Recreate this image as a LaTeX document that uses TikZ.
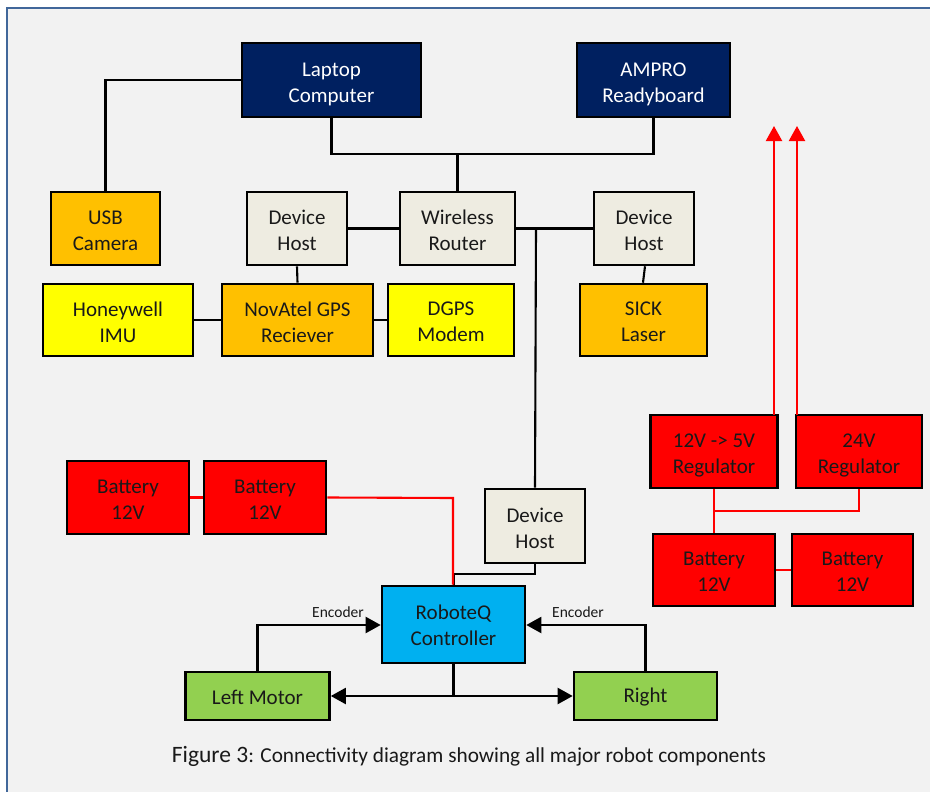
\documentclass[tikz,border=0pt]{standalone}
\usepackage{fontspec}
\setmainfont{Carlito}
\usetikzlibrary{arrows.meta}
\definecolor{navy}{HTML}{002060}
\definecolor{orng}{HTML}{FFC000}
\definecolor{yell}{HTML}{FFFF00}
\definecolor{beige}{HTML}{EEECE1}
\definecolor{rd}{HTML}{FF0000}
\definecolor{sky}{HTML}{00B0F0}
\definecolor{grn}{HTML}{92D050}
\definecolor{bg}{HTML}{F2F2F2}
\definecolor{frame}{HTML}{41679A}
\begin{document}
\begin{tikzpicture}[x=1pt,y=-1pt,
  box/.style={draw=black, line width=2.6pt, inner sep=0pt},
  tx/.style={align=center, inner sep=0pt, font=\fontsize{21}{26}\selectfont, text=black!90, yshift=-2pt},
  navybox/.style={box, fill=navy},
  orbox/.style={box, fill=orng},
  yebox/.style={box, fill=yell},
  bgbox/.style={box, fill=beige},
  rdbox/.style={box, fill=rd},
  blbox/.style={box, fill=sky},
  grbox/.style={box, fill=grn},
  wire/.style={draw=black, line width=2.1pt},
  pwire/.style={draw=rd, line width=2.1pt},
  tip/.style={-{Triangle[length=15pt,width=16pt]}},
  lbl/.style={font=\fontsize{15.5}{18}\selectfont, inner sep=0pt, text=black!90}
]
\useasboundingbox (0,0) rectangle (930,792);
\fill[white] (0,0) rectangle (930,792);
\draw[fill=bg, draw=frame, line width=2pt] (6.5,8) rectangle (945,810);

% nodes
\node[navybox, minimum width=179pt, minimum height=74pt, label={[tx, text=white, yshift=-2pt]center:Laptop\\Computer}] (laptop) at (331.5,80) {};
\node[navybox, minimum width=153pt, minimum height=74pt, label={[tx, text=white, yshift=-2pt]center:AMPRO\\Readyboard}] (ampro) at (653.5,80) {};
\node[orbox, minimum width=109pt, minimum height=73pt, label={[tx]center:USB\\Camera}] (usb) at (105.5,228.5) {};
\node[bgbox, minimum width=100pt, minimum height=73pt, label={[tx]center:Device\\Host}] (dhl) at (297,228.5) {};
\node[bgbox, minimum width=115pt, minimum height=73pt, label={[tx]center:Wireless\\Router}] (router) at (457.5,228.5) {};
\node[bgbox, minimum width=100pt, minimum height=73pt, label={[tx]center:Device\\Host}] (dhr) at (644,228.5) {};
\node[yebox, minimum width=150pt, minimum height=72pt, label={[tx]center:Honeywell\\IMU}] (imu) at (118,320) {};
\node[orbox, minimum width=151pt, minimum height=72pt, label={[tx]center:NovAtel GPS\\Reciever}] (gps) at (297.5,320) {};
\node[yebox, minimum width=126pt, minimum height=72pt, label={[tx]center:DGPS\\Modem}] (dgps) at (451,320) {};
\node[orbox, minimum width=127pt, minimum height=72pt, label={[tx]center:SICK\\Laser}] (sick) at (643.5,320) {};
\node[rdbox, minimum width=127pt, minimum height=73pt, label={[tx, yshift=-1.5pt]center:12V -> 5V\\Regulator}] (reg5) at (714,451.5) {};
\node[rdbox, minimum width=126pt, minimum height=73pt, label={[tx, yshift=-1.5pt]center:24V\\Regulator}] (reg24) at (859,451.5) {};
\node[rdbox, minimum width=122pt, minimum height=72pt, label={[tx]center:Battery\\12V}] (batra) at (714,570) {};
\node[rdbox, minimum width=121pt, minimum height=72pt, label={[tx]center:Battery\\12V}] (batrb) at (852.5,570) {};
\node[rdbox, minimum width=122pt, minimum height=73pt, label={[tx]center:Battery\\12V}] (batla) at (128,497.5) {};
\node[rdbox, minimum width=122pt, minimum height=73pt, label={[tx]center:Battery\\12V}] (batlb) at (265,497.5) {};
\node[bgbox, minimum width=100pt, minimum height=74pt, label={[tx]center:Device\\Host}] (dhb) at (535,526) {};
\node[blbox, minimum width=143pt, minimum height=77pt, label={[tx, yshift=1pt]center:RoboteQ\\Controller}] (robo) at (453.5,624.5) {};
\node[grbox, minimum width=144pt, minimum height=48pt, label={[tx, yshift=1pt]center:Left Motor}] (lmotor) at (257.5,696) {};
\node[grbox, minimum width=143pt, minimum height=48pt, label={[tx, yshift=1pt]center:Right}] (rmotor) at (645.5,696) {};

% coordinates
\coordinate (busL) at (331.5,154);
\coordinate (busR) at (653.5,154);
\coordinate (busM) at (457.5,154);
\coordinate (usbup) at (105.5,80);
\coordinate (rj) at (536,228.5);
\coordinate (dbk) at (535,574);
\coordinate (dbk2) at (454,574);
\coordinate (pbk) at (453,498);
\coordinate (arr1) at (774,126);
\coordinate (arr2) at (797,126);
\coordinate (regj1) at (714,511);
\coordinate (regj2) at (859,511);
\coordinate (encL) at (257.5,625);
\coordinate (encR) at (645.5,625);
\coordinate (mj) at (453.5,696);

% black connectors
\draw[wire] (laptop.south) -- (busL) -- (busR) -- (ampro.south);
\draw[wire] (busM) -- (router.north);
\draw[wire] (usb.north) -- (usbup) -- (laptop.west);
\draw[wire] (dhl.east) -- (router.west);
\draw[wire] (router.east) -- (dhr.west);
\draw[wire] (rj) -- (dhb.north);
\draw[wire] (dhl.south) -- (gps.north);
\draw[wire] ([xshift=1pt]dhr.south) -- ([xshift=-0.5pt]sick.north);
\draw[wire] (imu.east) -- (gps.west);
\draw[wire] (gps.east) -- (dgps.west);
\draw[wire] (dhb.south) -- (dbk) -- (dbk2) -- (dbk2 |- robo.north);
\draw[wire, tip] (lmotor.north) -- (encL) -- (robo.west |- encL);
\draw[wire, tip] (rmotor.north) -- (encR) -- (robo.east |- encR);
\draw[wire, tip] (robo.south) -- (mj) -- (lmotor.east);
\draw[wire, tip] (mj) -- (rmotor.west);

% power
\draw[pwire] (batla.east) -- (batla.east -| batlb.west);
\draw[pwire] (batlb.east) -- (pbk) -- (pbk |- robo.north);
\draw[pwire, tip] (774,415) -- (arr1);
\draw[pwire, tip] (797,415) -- (arr2);
\draw[pwire] (reg5.south) -- (regj1) -- (regj2) -- (reg24.south);
\draw[pwire] (regj1) -- (batra.north);
\draw[pwire] (batra.east) -- (batrb.west);

% labels
\node[lbl, anchor=base east] (encl) at (364,617) {Encoder};
\node[lbl, anchor=base west] (encr) at (552,617) {Encoder};
\node[inner sep=0pt, anchor=base, text=black!90] (cap) at (469,762) {{\fontsize{23.5}{26}\selectfont Figure 3}{\fontsize{21.3}{26}\selectfont: Connectivity diagram showing all major robot components}};
\end{tikzpicture}
\end{document}
